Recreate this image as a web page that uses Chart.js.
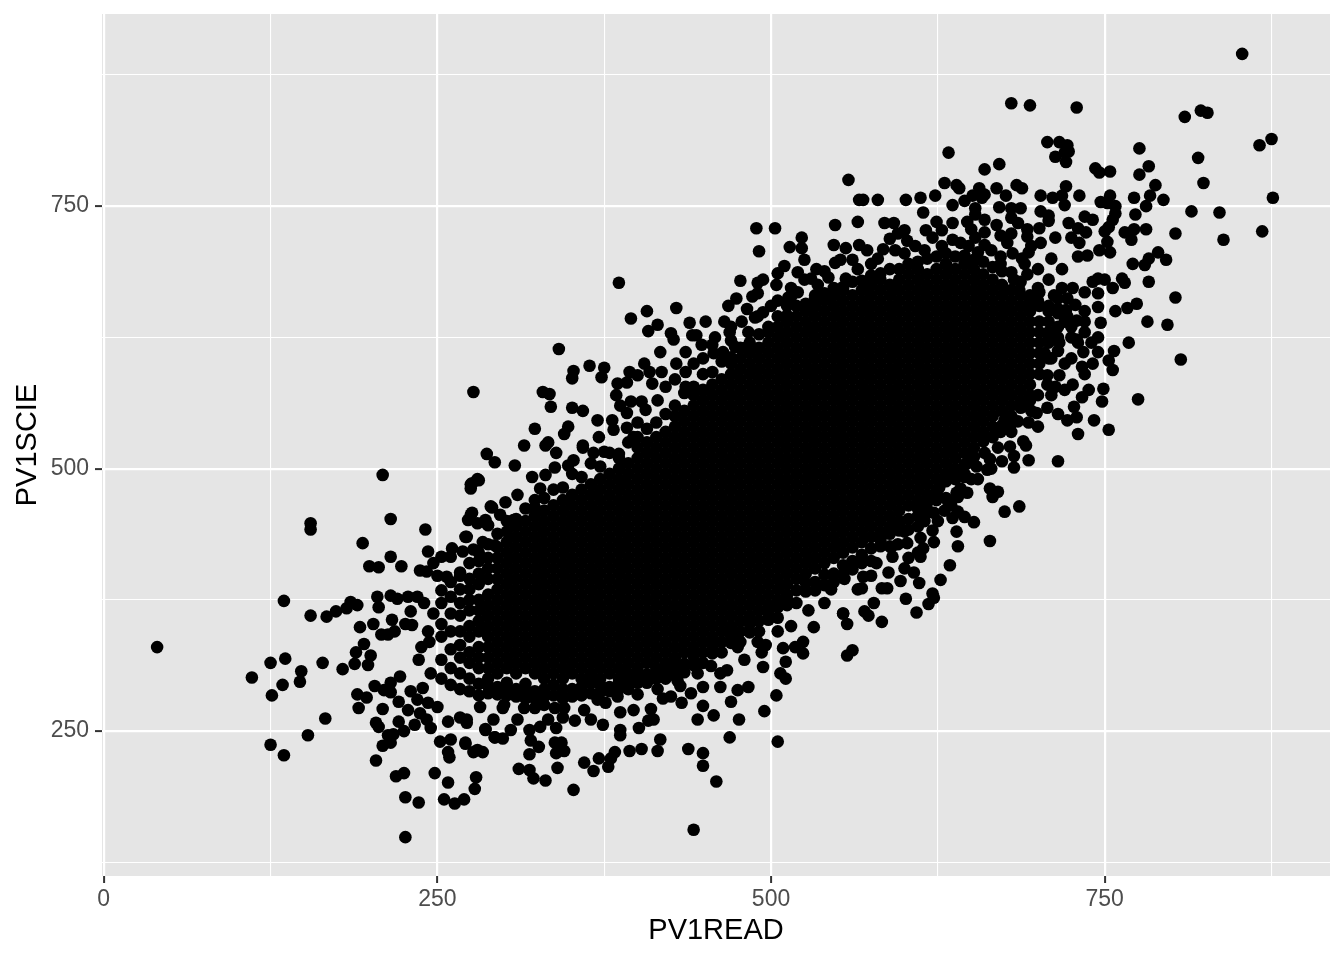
<!DOCTYPE html>
<html>
<head>
<meta charset="utf-8">
<title>PV1READ vs PV1SCIE</title>
<script src="https://cdn.jsdelivr.net/npm/chart.js@4"></script>
<style>
body { margin: 0; background: #fff; }
canvas { display: block; }
</style>
</head>
<body>
<canvas id="myChart" width="1344" height="960"></canvas>
<script>
// axis ticks
var xMajorTicks = [0, 250, 500, 750];
var xMinorTicks = [125, 375, 625, 875];
var yMajorTicks = [250, 500, 750];
var yMinorTicks = [125, 375, 625, 875];

// points, [PV1READ, PV1SCIE]
var leftTail = [[40,330],[155,448],[155,442],[215,452],[241,442],[194,429],[243,421],[199,407],[206,406],[215,416],[223,407],[135,374],[155,360],[167,359],[174,364],[182,367],[185,373],[190,370],[205,378],[206,368],[215,379],[220,376],[228,378],[235,378],[230,364],[216,356],[202,352],[192,349],[208,342],[213,342],[218,345],[226,352],[231,351],[195,333],[189,325],[188,314],[200,322],[198,313],[164,315],[179,309],[125,315],[136,319],[148,307],[147,297],[111,301],[134,294],[126,284],[166,262],[153,246],[125,237],[135,227],[190,285],[197,282],[191,272],[209,271],[203,293],[210,289],[215,296],[215,287],[222,302],[204,258],[206,254],[221,259],[225,250],[213,246],[217,247],[215,239],[209,236],[204,222],[219,207],[225,210],[226,187],[236,182],[226,149],[248,210],[258,201],[279,206],[278,195],[255,185],[263,181],[270,185],[252,240],[260,242],[271,238],[258,230],[259,225],[277,230],[280,232],[284,230],[233,256],[245,253],[258,259],[267,263],[272,258],[286,252],[293,244],[221,278],[230,288],[228,270],[239,291],[237,267],[242,261],[235,280],[243,277],[250,273],[247,410],[253,416],[260,416],[261,424],[269,421],[277,423],[237,403],[242,402],[250,398],[257,397],[267,401],[272,435],[284,430],[293,427],[290,464],[273,451],[276,458],[280,448],[286,451],[288,446],[275,481],[276,486],[281,489],[209,494],[238,330],[243,345],[236,318],[245,305],[240,372],[247,362],[244,335]];
var upperEdge = [[277,573],[341,614],[386,677],[287,514],[293,506],[308,503],[280,490],[275,485],[323,538],[315,522],[333,525],[331,522],[339,515],[348,540],[345,533],[359,522],[359,520],[371,530],[370,546],[335,559],[329,573],[334,571],[351,558],[359,555],[352,593],[351,586],[364,598],[375,596],[373,587],[385,581],[384,570],[387,560],[392,553],[395,564],[403,564],[406,556],[400,544],[381,546],[382,537],[392,539],[397,530],[394,592],[392,582],[400,589],[405,600],[409,592],[411,581],[418,592],[395,643],[407,650],[429,653],[415,637],[408,631],[425,629],[427,623],[439,639],[451,640],[441,627],[444,627],[458,625],[465,640],[470,635],[469,630],[417,611],[436,611],[429,600],[477,679],[474,662],[468,655],[482,652],[486,664],[490,667],[490,677],[494,680],[504,675],[505,686],[494,649],[513,663],[483,630],[473,616],[481,615],[464,611],[457,610],[449,605],[442,600],[421,578],[436,578],[338,501],[321,492],[331,494],[327,481],[348,503],[352,508],[367,515],[375,516],[291,463],[301,468],[310,475],[323,463],[307,451],[297,456],[275,456],[286,449],[271,435],[415,565],[428,585],[436,592],[448,618],[456,618],[470,622],[478,640],[490,645],[500,655],[505,660],[515,672],[525,680],[535,675]];
var upperRight = [[853,895],[680,848],[694,846],[729,844],[810,835],[822,841],[827,839],[875,814],[866,808],[776,805],[820,796],[783,788],[776,780],[788,770],[824,772],[784,760],[794,756],[772,758],[781,750],[773,742],[876,758],[815,745],[836,744],[839,718],[868,726],[803,724],[781,728],[707,811],[716,811],[722,808],[723,802],[713,797],[721,792],[720,801],[743,786],[746,782],[754,783],[633,801],[660,785],[671,790],[558,775],[566,756],[569,756],[580,756],[601,756],[612,758],[623,760],[630,772],[639,770],[641,767],[656,767],[651,760],[660,761],[669,767],[676,760],[658,758],[684,770],[688,767],[702,760],[711,758],[721,769],[718,760],[720,751],[731,760],[754,760],[747,754],[752,753],[758,750],[758,743],[636,751],[645,755],[671,749],[653,748],[653,742],[614,744],[680,748],[687,748],[702,745],[708,741],[708,736],[701,729],[735,740],[741,737],[723,734],[730,729],[736,725],[756,737],[753,730],[750,726],[765,725],[772,728],[770,718],[548,732],[565,735],[585,734],[592,734],[624,735],[616,727],[636,734],[647,735],[660,737],[669,732],[680,739],[685,734],[692,728],[692,721],[680,724],[489,729],[503,729],[491,707],[523,720],[514,711],[523,710],[547,713],[556,710],[566,713],[572,708],[584,709],[589,719],[595,724],[602,717],[593,708],[621,720],[636,718],[653,720],[660,713],[642,715],[702,715],[693,706],[677,715],[681,705],[713,720],[725,720],[731,715],[752,716],[746,708],[754,706],[737,703],[730,702],[790,706],[783,700],[796,699],[780,694],[771,695],[783,678],[803,663],[797,637],[782,640],[763,681],[765,677],[756,672],[745,681],[745,667],[735,668],[726,672],[718,672],[750,680],[741,678],[774,657],[767,653],[758,650],[745,654],[747,639],[735,640],[729,641],[728,656],[721,651],[510,693],[520,687],[525,699],[534,690],[530,681],[543,682],[548,696],[552,699],[561,699],[556,681],[515,664],[520,668],[533,663],[543,663],[512,655],[488,644],[700,690],[710,700],[690,695],[600,705],[608,712],[615,708],[628,712],[648,712],[655,706],[665,708],[672,702],[688,700],[695,712],[660,725],[650,728],[672,722],[628,727],[600,727],[575,695],[580,700],[565,690],[540,688],[708,680],[718,690],[712,665],[722,662],[700,672],[682,680],[692,685],[672,695],[686,670],[694,665],[700,660],[708,655],[715,652],[722,645],[716,620],[708,625],[694,655]];
var lowerRight = [[807,604],[775,566],[753,537],[730,533],[742,546],[748,564],[749,576],[738,575],[733,568],[727,559],[768,620],[757,612],[753,603],[756,594],[745,611],[741,600],[733,597],[729,623],[734,611],[726,580],[707,580],[713,578],[707,589],[716,589],[707,558],[715,552],[722,546],[729,549],[693,544],[699,553],[675,546],[715,507],[693,508],[689,526],[691,522],[679,521],[682,512],[682,501],[673,507],[664,509],[662,499],[654,502],[647,505],[639,494],[647,477],[642,481],[639,477],[640,473],[664,481],[670,478],[666,473],[686,464],[675,459],[664,431],[640,459],[636,453],[645,454],[652,449],[639,440],[640,426],[634,408],[627,394],[621,381],[622,377],[618,371],[609,363],[622,430],[614,424],[612,416],[612,434],[602,429],[621,441],[622,458],[617,461],[624,470],[626,482],[607,401],[611,391],[597,393],[601,376],[588,401],[587,386],[583,386],[577,372],[569,397],[568,386],[570,364],[573,360],[583,354],[554,362],[603,415],[591,416],[579,410],[700,570],[720,600],[710,605],[725,625],[690,560],[680,535],[660,515],[650,490],[632,470],[600,440],[595,428],[590,425],[610,445],[615,450],[630,460],[635,465],[625,450],[610,420],[705,610],[725,605],[735,590],[720,575],[710,570],[695,555],[685,545],[730,620],[740,620],[735,630],[745,625],[725,635],[735,650],[720,640],[700,540],[665,500],[670,520],[655,490],[645,495],[660,530],[672,535],[575,398],[565,385],[555,395],[545,385],[600,405]];
var lowerEdge = [[442,156],[459,202],[505,240],[449,217],[449,229],[438,233],[352,194],[331,203],[322,205],[319,213],[311,214],[340,215],[360,220],[367,212],[378,216],[371,224],[380,224],[383,230],[394,231],[403,233],[415,231],[417,242],[319,228],[326,235],[320,241],[338,239],[343,239],[339,229],[345,231],[271,239],[469,244],[476,261],[457,265],[445,261],[449,274],[495,269],[504,284],[433,277],[387,251],[387,246],[374,256],[401,253],[408,260],[412,261],[410,271],[397,270],[387,268],[376,277],[365,261],[353,260],[339,253],[327,254],[319,251],[333,261],[344,263],[299,243],[293,244],[286,251],[305,251],[272,261],[292,261],[310,261],[323,272],[338,272],[282,273],[299,272],[483,292],[475,289],[470,278],[462,292],[449,292],[440,286],[425,283],[419,281],[432,293],[494,311],[493,325],[496,332],[511,316],[507,305],[511,300],[509,329],[518,330],[524,335],[524,324],[557,352],[554,362],[557,322],[561,327],[532,349],[475,342],[475,330],[467,308],[462,305],[300,275],[315,272],[330,275],[345,272],[360,270],[370,280],[385,283],[400,285],[415,290],[430,298],[445,305],[455,312],[480,318],[490,335],[505,345],[515,350],[528,365],[540,372]];

// rim of the solid area, estimated to close the band between it and the single points
var rimUpper = [[302,450],[316,462],[330,472],[344,482],[358,492],[372,502],[386,514],[400,530],[414,544],[428,560],[442,578],[456,592],[470,606],[484,620],[498,635],[512,646],[526,657],[540,667],[554,673],[568,679],[582,686],[596,690],[610,697],[624,702],[638,702],[652,699],[666,692],[680,687]];
var rimLower = [[288,293],[295,285],[302,290],[309,283],[316,288],[323,281],[330,290],[337,284],[344,290],[351,283],[358,292],[365,286],[372,294],[379,288],[386,296],[393,290],[400,303],[407,296],[414,307],[421,300],[428,312],[435,306],[442,321],[449,315],[456,331],[463,325],[470,341],[477,335],[484,352],[491,345],[498,362],[505,358],[512,375],[519,372],[526,391],[533,384],[540,399],[547,392],[554,408],[561,404],[568,418],[575,412],[582,432],[589,426],[596,446],[603,442],[610,462],[617,458],[624,478],[631,472],[638,498],[645,492]];

// solid black middle: single points can't be told apart there, so these
// columns are just estimates that cover the area seen in the picture
var coreRead = [253,260,267,274,281,288,295,302,309,316,323,330,337,344,351,358,365,372,379,386,393,400,407,414,421,428,435,442,449,456,463,470,477,484,491,498,505,512,519,526,533,540,547,554,561,568,575,582,589,596,603,610,617,624,631,638,645,652,659,666,673,680,687,694,701,708,715];
var coreScie = [
[300,318,340,352,372,384],
[294,310,328,345,362,378,392],
[290,305,320,332,345,360,372,385,398],
[288,300,315,325,340,350,365,375,385,395,410],
[284,295,310,320,330,345,355,365,375,390,400,412,420],
[286,300,310,320,330,340,350,360,370,380,395,405,415,428],
[292,305,315,325,335,345,355,365,375,385,395,405,415,425,438],
[284,296,310,320,330,340,350,360,370,380,390,400,410,420,430,440],
[290,305,315,325,335,345,355,365,375,385,395,405,415,425,435,445,452],
[281,295,310,320,330,340,350,360,370,380,390,400,410,420,430,440,450],
[288,305,315,325,335,345,355,365,375,385,395,405,415,425,435,445,455,470],
[283,300,310,320,330,340,350,360,370,380,390,400,410,420,430,440,450,460],
[294,305,315,325,335,345,355,365,375,385,395,405,415,425,435,445,455,465,480],
[281,300,310,320,330,340,350,360,370,380,390,400,410,420,430,440,450,460,470],
[290,305,315,325,335,345,355,365,375,385,395,405,415,425,435,445,455,465,475,495],
[284,300,310,320,330,340,350,360,370,380,390,400,410,420,430,440,450,460,470,480],
[296,305,315,325,335,345,355,365,375,385,395,405,415,425,435,445,455,465,475,485,505],
[287,300,310,320,330,340,350,360,370,380,390,400,410,420,430,440,450,460,470,480,490],
[292,305,315,325,335,345,355,365,375,385,395,405,415,425,435,445,455,465,475,485,495,515],
[290,300,310,320,330,340,350,360,370,380,390,400,410,420,430,440,450,460,470,480,490,500,510],
[298,305,315,325,335,345,355,365,375,385,395,405,415,425,435,445,455,465,475,485,495,505,525],
[296,310,320,330,340,350,360,370,380,390,400,410,420,430,440,450,460,470,480,490,500,510,520],
[304,315,325,335,345,355,365,375,385,395,405,415,425,435,445,455,465,475,485,495,505,515,525,538],
[300,310,320,330,340,350,360,370,380,390,400,410,420,430,440,450,460,470,480,490,500,510,520,530],
[308,315,325,335,345,355,365,375,385,395,405,415,425,435,445,455,465,475,485,495,505,515,525,535,552],
[303,320,330,340,350,360,370,380,390,400,410,420,430,440,450,460,470,480,490,500,510,520,530,540,550],
[314,325,335,345,355,365,375,385,395,405,415,425,435,445,455,465,475,485,495,505,515,525,535,545,555,572],
[313,330,340,350,360,370,380,390,400,410,420,430,440,450,460,470,480,490,500,510,520,530,540,550,560,570],
[325,335,345,355,365,375,385,395,405,415,425,435,445,455,465,475,485,495,505,515,525,535,545,555,565,575,590],
[324,340,350,360,370,380,390,400,410,420,430,440,450,460,470,480,490,500,510,520,530,540,550,560,570,580],
[335,345,355,365,375,385,395,405,415,425,435,445,455,465,475,485,495,505,515,525,535,545,555,565,575,585,602],
[334,350,360,370,380,390,400,410,420,430,440,450,460,470,480,490,500,510,520,530,540,550,560,570,580,590,600],
[345,355,365,375,385,395,405,415,425,435,445,455,465,475,485,495,505,515,525,535,545,555,565,575,585,595,605,615],
[344,360,370,380,390,400,410,420,430,440,450,460,470,480,490,500,510,520,530,540,550,560,570,580,590,600,610],
[355,365,375,385,395,405,415,425,435,445,455,465,475,485,495,505,515,525,535,545,555,565,575,585,595,605,615,628],
[356,370,380,390,400,410,420,430,440,450,460,470,480,490,500,510,520,530,540,550,560,570,580,590,600,610,620,630],
[368,375,385,395,405,415,425,435,445,455,465,475,485,495,505,515,525,535,545,555,565,575,585,595,605,615,625,635,645],
[370,380,390,400,410,420,430,440,450,460,470,480,490,500,510,520,530,540,550,560,570,580,590,600,610,620,630,640],
[384,395,405,415,425,435,445,455,465,475,485,495,505,515,525,535,545,555,565,575,585,595,605,615,625,635,645,655],
[383,400,410,420,430,440,450,460,470,480,490,500,510,520,530,540,550,560,570,580,590,600,610,620,630,640,650],
[392,405,415,425,435,445,455,465,475,485,495,505,515,525,535,545,555,565,575,585,595,605,615,625,635,645,655,665],
[389,410,420,430,440,450,460,470,480,490,500,510,520,530,540,550,560,570,580,590,600,610,620,630,640,650,660],
[400,415,425,435,445,455,465,475,485,495,505,515,525,535,545,555,565,575,585,595,605,615,625,635,645,655,665,672],
[399,420,430,440,450,460,470,480,490,500,510,520,530,540,550,560,570,580,590,600,610,620,630,640,650,660,670],
[412,425,435,445,455,465,475,485,495,505,515,525,535,545,555,565,575,585,595,605,615,625,635,645,655,665,678],
[410,430,440,450,460,470,480,490,500,510,520,530,540,550,560,570,580,590,600,610,620,630,640,650,660,670],
[424,435,445,455,465,475,485,495,505,515,525,535,545,555,565,575,585,595,605,615,625,635,645,655,665,675,684],
[426,440,450,460,470,480,490,500,510,520,530,540,550,560,570,580,590,600,610,620,630,640,650,660,670,680],
[438,445,455,465,475,485,495,505,515,525,535,545,555,565,575,585,595,605,615,625,635,645,655,665,675,690],
[441,450,460,470,480,490,500,510,520,530,540,550,560,570,580,590,600,610,620,630,640,650,660,670,680],
[452,465,475,485,495,505,515,525,535,545,555,565,575,585,595,605,615,625,635,645,655,665,675,685,695],
[455,470,480,490,500,510,520,530,540,550,560,570,580,590,600,610,620,630,640,650,660,670,680,690],
[468,475,485,495,505,515,525,535,545,555,565,575,585,595,605,615,625,635,645,655,665,675,685,700],
[472,480,490,500,510,520,530,540,550,560,570,580,590,600,610,620,630,640,650,660,670,680,690],
[488,495,505,515,525,535,545,555,565,575,585,595,605,615,625,635,645,655,665,675,685,695,705],
[490,500,510,520,530,540,550,560,570,580,590,600,610,620,630,640,650,660,670,680,690],
[504,515,525,535,545,555,565,575,585,595,605,615,625,635,645,655,665,675,685,695,703],
[511,520,530,540,550,560,570,580,590,600,610,620,630,640,650,660,670,680,690],
[526,535,545,555,565,575,585,595,605,615,625,635,645,655,665,675,685,697],
[530,540,550,560,570,580,590,600,610,620,630,640,650,660,670,680],
[541,555,565,575,585,595,605,615,625,635,645,655,665,675,688],
[543,550,560,570,580,590,600,610,620,630,640,650,660,670],
[558,565,575,585,595,605,615,625,635,645,655,665,678],
[565,570,580,590,600,610,620,630,640,650,660],
[590,600,610,620,630,640,655,668],
[605,620,630,640,650],
[612,625,635,648,662]
];

function toPoints(pairs){
    return pairs.map(function(p){ return { x: p[0], y: p[1] }; });
}

var scatterData = [];
coreRead.forEach(function(read, i){
    coreScie[i].forEach(function(scie){
        scatterData.push({ x: read, y: scie });
    });
});
scatterData = scatterData
    .concat(toPoints(rimUpper))
    .concat(toPoints(rimLower))
    .concat(toPoints(leftTail))
    .concat(toPoints(upperEdge))
    .concat(toPoints(upperRight))
    .concat(toPoints(lowerRight))
    .concat(toPoints(lowerEdge));

// grey panel behind the grid
var panelBackground = {
    id: 'panelBackground',
    beforeDraw: function(chart){
        var a = chart.chartArea;
        chart.ctx.save();
        chart.ctx.fillStyle = '#E5E5E5';
        chart.ctx.fillRect(a.left, a.top, a.right - a.left, a.bottom - a.top);
        chart.ctx.restore();
    }
};

function ggGrid(majors){
    return {
        color: '#FFFFFF',
        lineWidth: function(c){ return c.tick && majors.indexOf(c.tick.value) >= 0 ? 2.2 : 1.1; },
        tickLength: 7,
        tickWidth: 2,
        tickColor: function(c){ return c.tick && majors.indexOf(c.tick.value) >= 0 ? '#333333' : 'rgba(0,0,0,0)'; }
    };
}

function setTicks(values){
    return function(scale){
        scale.ticks = values.map(function(v){ return { value: v }; });
    };
}

var ctx = document.getElementById('myChart').getContext('2d');

var myChart = new Chart(ctx, {
    type: 'scatter',
    plugins: [panelBackground],
    data: {
        datasets: [{
            label: 'PV1SCIE',
            data: scatterData,
            backgroundColor: '#000000',
            borderWidth: 0,
            pointRadius: 6.3
        }]
    },
    options: {
        responsive: false,
        devicePixelRatio: 1,
        animation: false,
        layout: { padding: { top: 14, right: 14, left: 0, bottom: 0 } },
        plugins: { legend: { display: false }, tooltip: { enabled: false } },
        scales: {
            x: {
                type: 'linear',
                min: -1.3,
                max: 918.8,
                border: { display: false },
                grid: ggGrid(xMajorTicks),
                afterBuildTicks: setTicks(xMajorTicks.concat(xMinorTicks)),
                afterFit: function(scale){
                    scale.height = 84;
                    scale.paddingLeft = 0;
                    scale.paddingRight = 0;
                },
                ticks: {
                    autoSkip: false,
                    maxRotation: 0,
                    padding: 3,
                    color: '#4D4D4D',
                    font: { family: 'Liberation Sans', size: 23 },
                    callback: function(v){ return xMajorTicks.indexOf(v) >= 0 ? String(v) : ''; }
                },
                title: {
                    display: true,
                    text: 'PV1READ',
                    color: '#000000',
                    font: { family: 'Liberation Sans', size: 29 },
                    padding: { top: 0, bottom: 12 }
                }
            },
            y: {
                type: 'linear',
                min: 112,
                max: 933,
                border: { display: false },
                grid: ggGrid(yMajorTicks),
                afterBuildTicks: setTicks(yMajorTicks.concat(yMinorTicks)),
                afterFit: function(scale){
                    scale.width = 102;
                    scale.paddingTop = 0;
                    scale.paddingBottom = 0;
                },
                ticks: {
                    autoSkip: false,
                    padding: 6,
                    color: '#4D4D4D',
                    font: { family: 'Liberation Sans', size: 23 },
                    callback: function(v){ return yMajorTicks.indexOf(v) >= 0 ? String(v) : ''; }
                },
                title: {
                    display: true,
                    text: 'PV1SCIE',
                    color: '#000000',
                    font: { family: 'Liberation Sans', size: 29 },
                    padding: { top: 11, bottom: 0 }
                }
            }
        }
    }
});
</script>
</body>
</html>
